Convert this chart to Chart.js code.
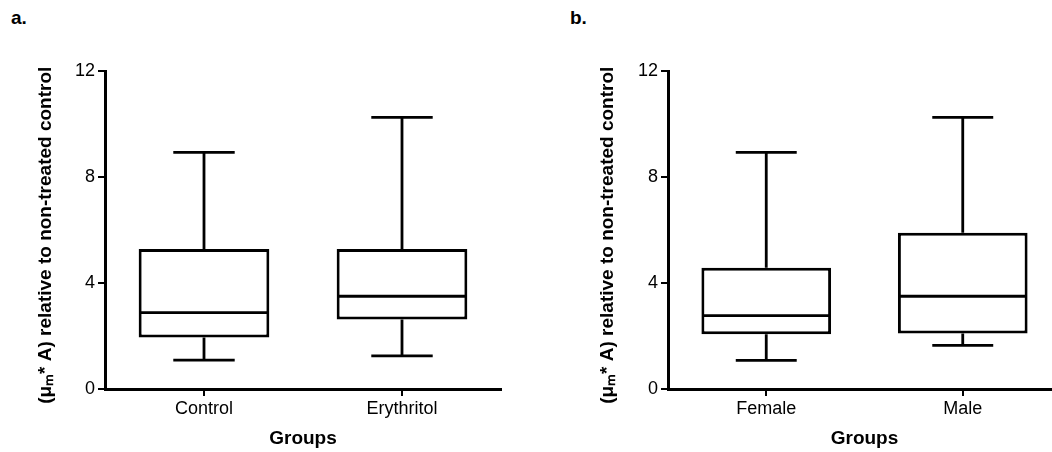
<!DOCTYPE html>
<html>
<head>
<meta charset="utf-8">
<script src="https://cdn.jsdelivr.net/npm/chart.js@4"></script>
<style>
  body { margin: 0; width: 1052px; height: 452px; overflow: hidden; background: #fff; position: relative; font-family: "Liberation Sans", Arial, sans-serif; }
  .panel { position: absolute; top: 0; }
  .tag { position: absolute; top: 7px; font-weight: bold; font-size: 19px; color: #000; }
</style>
</head>
<body>
<div class="tag" style="left:11px">a.</div>
<div class="tag" style="left:570px">b.</div>
<canvas id="chartA" class="panel" width="526" height="452" style="left:0"></canvas>
<canvas id="chartB" class="panel" width="560" height="452" style="left:526px"></canvas>
<script>
// panel a
const treatmentGroups = ['Control', 'Erythritol'];
const treatmentMin = [1.09, 1.25];
const treatmentQ1 = [1.94, 2.62];
const treatmentMedian = [2.88, 3.5];
const treatmentQ3 = [5.28, 5.28];
const treatmentMax = [8.93, 10.25];

// panel b
const sexGroups = ['Female', 'Male'];
const sexMin = [1.08, 1.65];
const sexQ1 = [2.07, 2.09];
const sexMedian = [2.77, 3.5];
const sexQ3 = [4.58, 5.9];
const sexMax = [8.93, 10.25];

const yTicks = [0, 4, 8, 12];
const yTitle = '(μₘ* A) relative to non-treated control  ';
const xTitle = 'Groups';

const FONT = '"Liberation Sans", Arial, sans-serif';

// whiskers + median line on top of the floating bars
const boxParts = {
    id: 'boxParts',
    afterDatasetsDraw(chart, args, opts) {
        const ctx = chart.ctx;
        const y = chart.scales.y;
        const meta = chart.getDatasetMeta(0);
        ctx.save();
        ctx.strokeStyle = '#000';
        ctx.lineWidth = 2.8;
        ctx.lineCap = 'butt';
        meta.data.forEach(function(bar, i) {
            const cx = bar.x;
            const half = bar.width / 2;
            const cap = bar.width * 0.235;
            const yMin = y.getPixelForValue(opts.min[i]);
            const yMax = y.getPixelForValue(opts.max[i]);
            const yQ1 = y.getPixelForValue(opts.q1[i]);
            const yQ3 = y.getPixelForValue(opts.q3[i]);
            const yMed = y.getPixelForValue(opts.median[i]);
            ctx.beginPath();
            ctx.moveTo(cx, yQ3); ctx.lineTo(cx, yMax);
            ctx.moveTo(cx - cap, yMax); ctx.lineTo(cx + cap, yMax);
            ctx.moveTo(cx, yQ1); ctx.lineTo(cx, yMin);
            ctx.moveTo(cx - cap, yMin); ctx.lineTo(cx + cap, yMin);
            ctx.moveTo(cx - half + 1, yMed); ctx.lineTo(cx + half - 1, yMed);
            ctx.stroke();
        });
        ctx.restore();
    }
};

function makeBoxChart(id, labels, mins, q1, med, q3, maxs, yWidth, titlePad) {
    new Chart(document.getElementById(id), {
        type: 'bar',
        data: {
            labels: labels,
            datasets: [{
                data: labels.map((l, i) => [q1[i], q3[i]]),
                backgroundColor: '#fff',
                borderColor: '#000',
                borderWidth: 3,
                borderSkipped: false,
                barPercentage: 0.66,
                categoryPercentage: 1
            }]
        },
        options: {
            responsive: false,
            animation: false,
            devicePixelRatio: 1,
            layout: { padding: { top: 71, right: 25, bottom: 0, left: 0 } },
            plugins: {
                legend: { display: false },
                tooltip: { enabled: false },
                boxParts: { min: mins, q1: q1, median: med, q3: q3, max: maxs }
            },
            scales: {
                x: {
                    offset: true,
                    afterFit: s => { s.height = 63; },
                    grid: { offset: false, drawOnChartArea: false, color: '#000', lineWidth: 2, tickLength: 7 },
                    border: { color: '#000', width: 3 },
                    ticks: { color: '#000', font: { family: FONT, size: 18 }, padding: 2 },
                    title: { display: true, text: xTitle, color: '#000', font: { family: FONT, size: 19, weight: 'bold' }, padding: { top: 0, bottom: 2 } }
                },
                y: {
                    min: 0,
                    max: 12,
                    afterBuildTicks: s => { s.ticks = yTicks.map(v => ({ value: v })); },
                    afterFit: s => { s.width = yWidth; },
                    grid: { drawOnChartArea: false, color: '#000', lineWidth: 2, tickLength: 7 },
                    border: { color: '#000', width: 3 },
                    ticks: { color: '#000', font: { family: FONT, size: 18 }, padding: 3 },
                    title: { display: true, text: yTitle, color: '#000', font: { family: FONT, size: 19, weight: 'bold' }, padding: { top: titlePad, bottom: 0 } }
                }
            }
        },
        plugins: [boxParts]
    });
}

makeBoxChart('chartA', treatmentGroups, treatmentMin, treatmentQ1, treatmentMedian, treatmentQ3, treatmentMax, 105, 34);
makeBoxChart('chartB', sexGroups, sexMin, sexQ1, sexMedian, sexQ3, sexMax, 142, 70);
</script>
</body>
</html>
